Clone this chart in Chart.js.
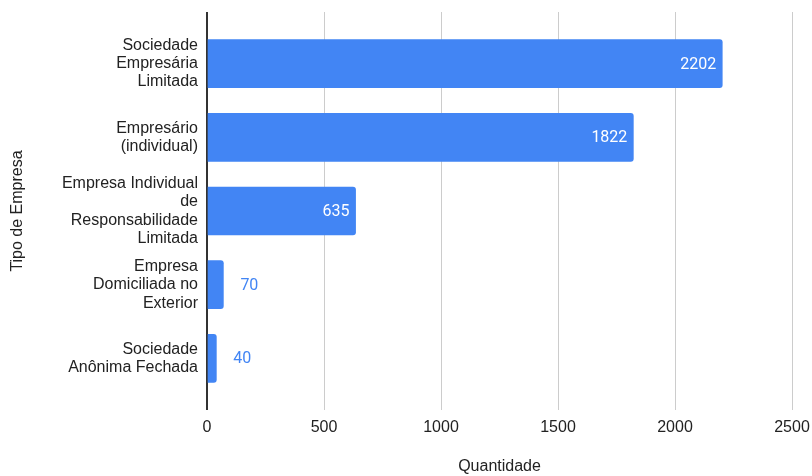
<!DOCTYPE html>
<html>
<head>
<meta charset="utf-8">
<script src="https://cdn.jsdelivr.net/npm/chart.js@4"></script>
<style>
  html, body { margin: 0; padding: 0; background: #fff; }
  #wrap { width: 812px; height: 476px; }
</style>
</head>
<body>
<div id="wrap"><canvas id="chart" width="812" height="476"></canvas></div>
<script>
// Data
const tipos = [
    ['Sociedade', 'Empresária', 'Limitada'],
    ['Empresário', '(individual)'],
    ['Empresa Individual', 'de', 'Responsabilidade', 'Limitada'],
    ['Empresa', 'Domiciliada no', 'Exterior'],
    ['Sociedade', 'Anônima Fechada']
];
const quantidades = [2202, 1822, 635, 70, 40];
const xTicks = [0, 500, 1000, 1500, 2000, 2500];

const blue = '#4285F4';
const labelFont = '"Liberation Sans", Arial, sans-serif';

// value labels on bars
const valueLabels = {
    id: 'valueLabels',
    afterDatasetsDraw(chart) {
        const ctx = chart.ctx;
        const meta = chart.getDatasetMeta(0);
        ctx.save();
        ctx.font = '16px Roboto, sans-serif';
        ctx.textBaseline = 'middle';
        meta.data.forEach((bar, i) => {
            const txt = String(quantidades[i]);
            const w = ctx.measureText(txt).width;
            const barW = bar.x - bar.base;
            if (barW > w + 16) {
                ctx.fillStyle = '#fff';
                ctx.textAlign = 'right';
                ctx.fillText(txt, bar.x - 6, bar.y + 1);
            } else {
                ctx.fillStyle = blue;
                ctx.textAlign = 'left';
                ctx.fillText(txt, bar.x + 17, bar.y + 1);
            }
        });
        ctx.restore();
    }
};

new Chart(document.getElementById('chart'), {
    type: 'bar',
    data: {
        datasets: [{
            data: quantidades.map((q, i) => ({ x: q, y: i })),
            backgroundColor: blue,
            borderRadius: 3,
            borderSkipped: 'start',
            barThickness: 48
        }]
    },
    options: {
        indexAxis: 'y',
        responsive: false,
        animation: false,
        layout: { padding: { top: 12, right: 20, left: 0, bottom: 0 } },
        plugins: { legend: { display: false }, tooltip: { enabled: false } },
        scales: {
            x: {
                type: 'linear',
                min: 0,
                max: 2500,
                afterBuildTicks: s => { s.ticks = xTicks.map(v => ({ value: v })); },
                afterFit: s => { s.height = 66; s.paddingLeft = 0; s.paddingRight = 0; },
                border: { display: false },
                grid: {
                    drawTicks: false,
                    color: c => c.tick && c.tick.value === 0 ? '#333' : '#ccc',
                    lineWidth: c => c.tick && c.tick.value === 0 ? 2 : 1
                },
                ticks: {
                    color: '#222',
                    font: { family: labelFont, size: 16 },
                    padding: 8,
                    callback: v => String(v)
                },
                title: {
                    display: true,
                    text: 'Quantidade',
                    color: '#222',
                    font: { family: labelFont, size: 16 },
                    padding: { top: 16, bottom: 0 }
                }
            },
            y: {
                type: 'linear',
                reverse: true,
                offset: false,
                min: -0.7,
                max: 4.7,
                afterBuildTicks: s => { s.ticks = tipos.map((_, i) => ({ value: i })); },
                afterFit: s => { s.width = 207; s.paddingTop = 0; s.paddingBottom = 0; },
                border: { display: false },
                grid: { display: false, drawTicks: false },
                ticks: {
                    color: '#222',
                    font: { family: labelFont, size: 16, lineHeight: 1.15 },
                    padding: 9,
                    autoSkip: false,
                    callback: v => tipos[v] || ''
                },
                title: {
                    display: true,
                    text: 'Tipo de Empresa',
                    color: '#222',
                    font: { family: labelFont, size: 16 },
                    padding: { top: 8, bottom: 0 }
                }
            }
        }
    },
    plugins: [valueLabels]
});
</script>
</body>
</html>
